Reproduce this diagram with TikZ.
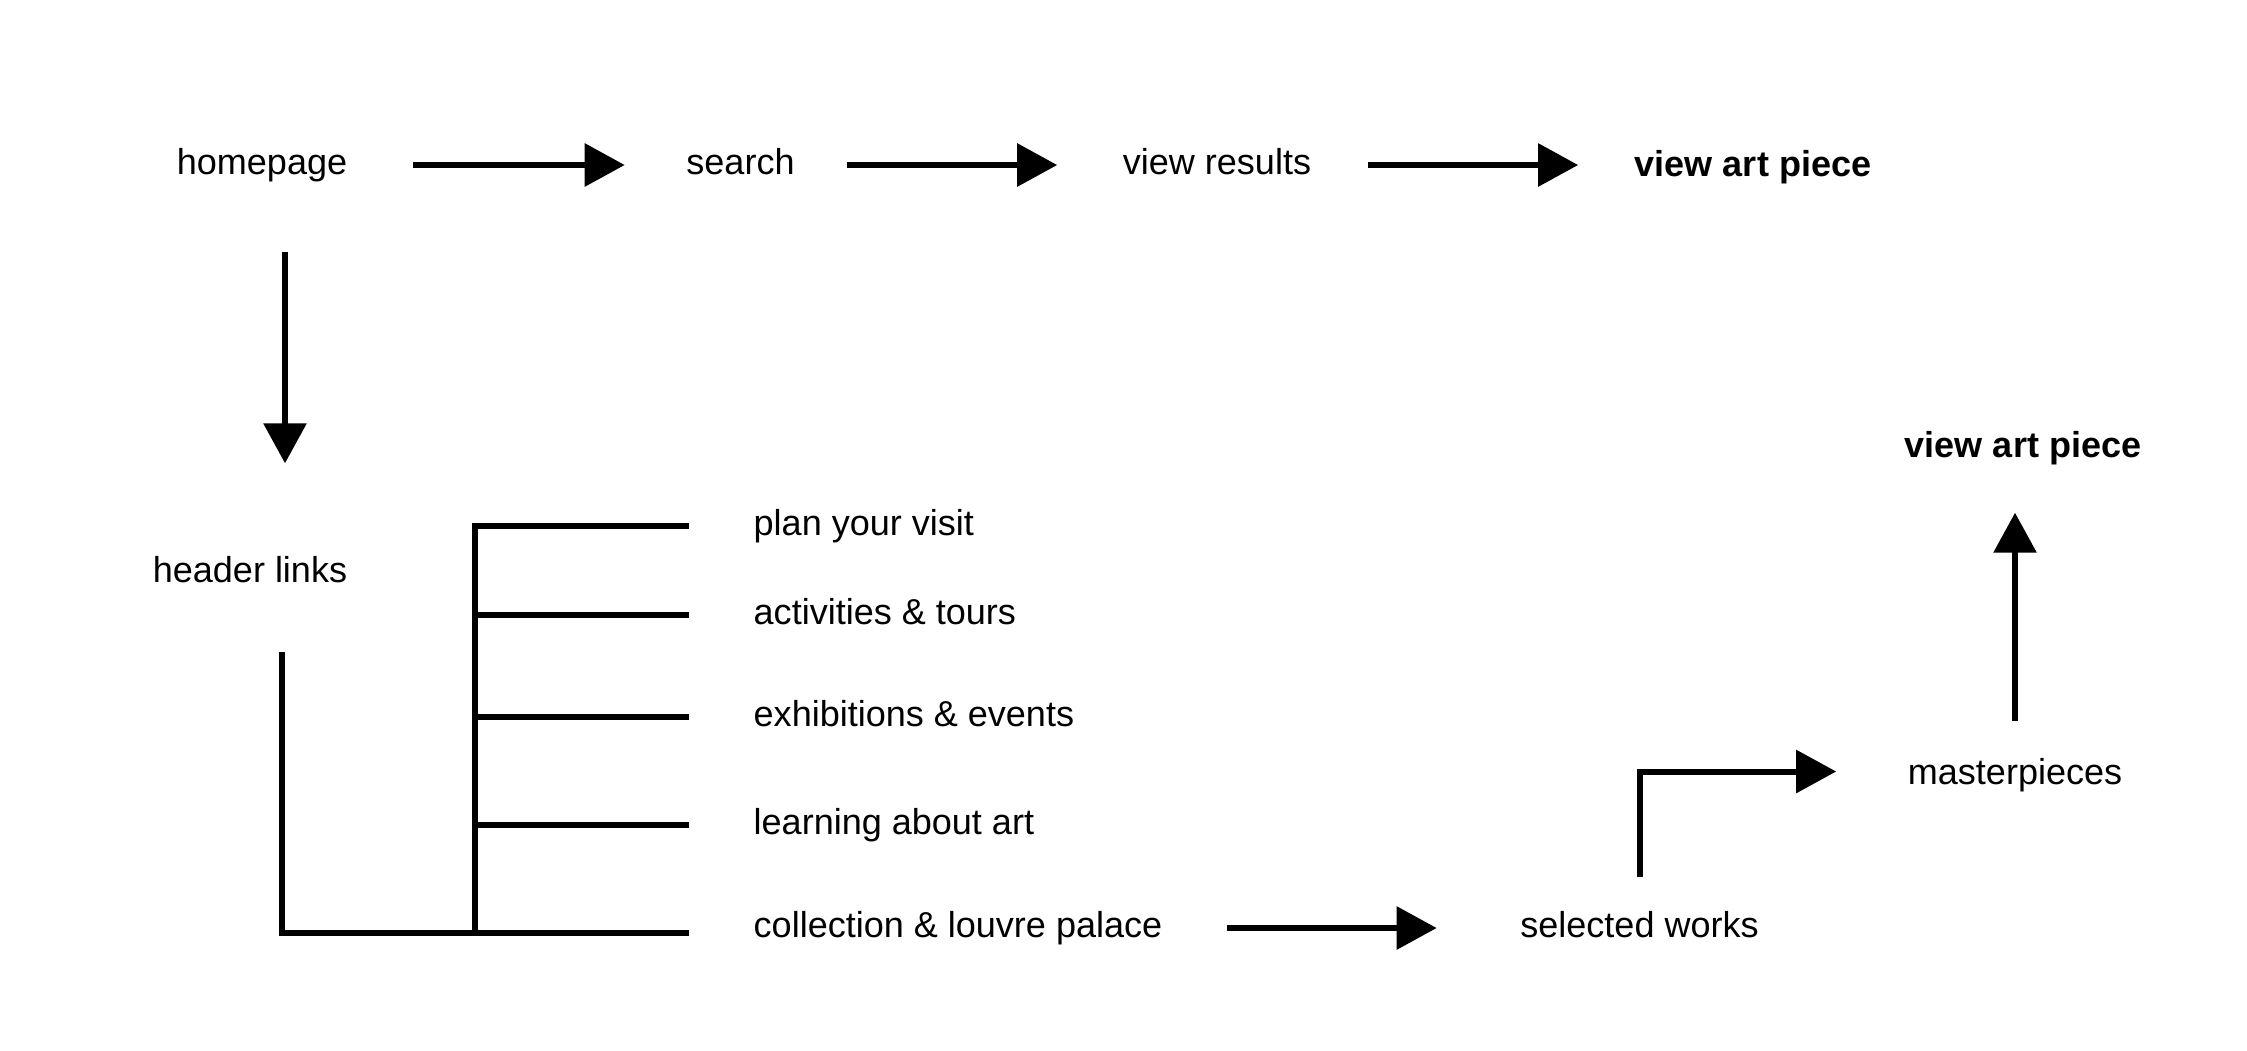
\documentclass[tikz,border=0pt]{standalone}
\usepackage{fontspec}
\setmainfont{Liberation Sans}
\usetikzlibrary{arrows.meta}
\begin{document}
\begin{tikzpicture}[
    every node/.style={inner sep=0pt, text height=0.27cm, text depth=0.08cm,
      font=\fontsize{10.25pt}{12pt}\selectfont},
    link/.style={line width=0.06cm},
    arr/.style={link, -{Triangle[length=0.4cm, width=0.42cm]}}]
      \useasboundingbox (0,0) rectangle (22.47,-10.5);
      \draw
        (2.62,-1.65) node (homepage){homepage}
        (7.405,-1.65) node (search){search}
        (12.17,-1.65) node (results){view results}
        (17.53,-1.67) node[font=\fontsize{10.25pt}{12pt}\selectfont\bfseries] (artpiece){view art piece}
        (2.50,-5.725) node (header){header links}
        (7.53,-5.26) node[anchor=west] (plan){plan your visit}
        (7.53,-6.147) node[anchor=west] (activities){activities \& tours}
        (7.53,-7.17) node[anchor=west] (exhibitions){exhibitions \& events}
        (7.53,-8.25) node[anchor=west] (learning){learning about art}
        (7.53,-9.28) node[anchor=west] (collection){collection \& louvre palace}
        (16.395,-9.28) node (selected){selected works}
        (20.15,-7.745) node (masterpieces){masterpieces}
        (20.23,-4.475) node[font=\fontsize{10.25pt}{12pt}\selectfont\bfseries] (artpiece2){view art piece};
      \coordinate (trunk) at (4.75,-9.33);
      \begin{scope}[arr]
        \draw[shorten <=0.65cm, shorten >=0.61cm] (homepage.east) to (search.west);
        \draw[shorten <=0.52cm, shorten >=0.65cm] (search.east) to (results.west);
        \draw[shorten <=0.56cm, shorten >=0.56cm] (results.east) to (results.east -| artpiece.west);
        \draw[shorten <=0.685cm, shorten >=0.91cm] ([xshift=0.23cm]homepage.south) to ([xshift=0.23cm]homepage.south |- header.north);
        \draw[shorten <=0.64cm, shorten >=0.83cm] (collection.east) to (selected.west);
        \draw ([yshift=0.325cm]selected.north) |- ([xshift=-0.71cm,yshift=0.03cm]masterpieces.west);
        \draw[shorten <=0.35cm, shorten >=0.47cm] (masterpieces.north) to (masterpieces.north |- artpiece2.south);
      \end{scope}
      \begin{scope}[link]
        \draw ([xshift=0.32cm,yshift=-0.61cm]header.south) |- ([xshift=-0.64cm]collection.west |- trunk);
        \draw ([xshift=-0.64cm]plan.west) -| (trunk);
        \draw (trunk |- activities.west) to ([xshift=-0.64cm]activities.west);
        \draw (trunk |- exhibitions.west) to ([xshift=-0.64cm]exhibitions.west);
        \draw (trunk |- learning.west) to ([xshift=-0.64cm]learning.west);
      \end{scope}
    \end{tikzpicture}
\end{document}
